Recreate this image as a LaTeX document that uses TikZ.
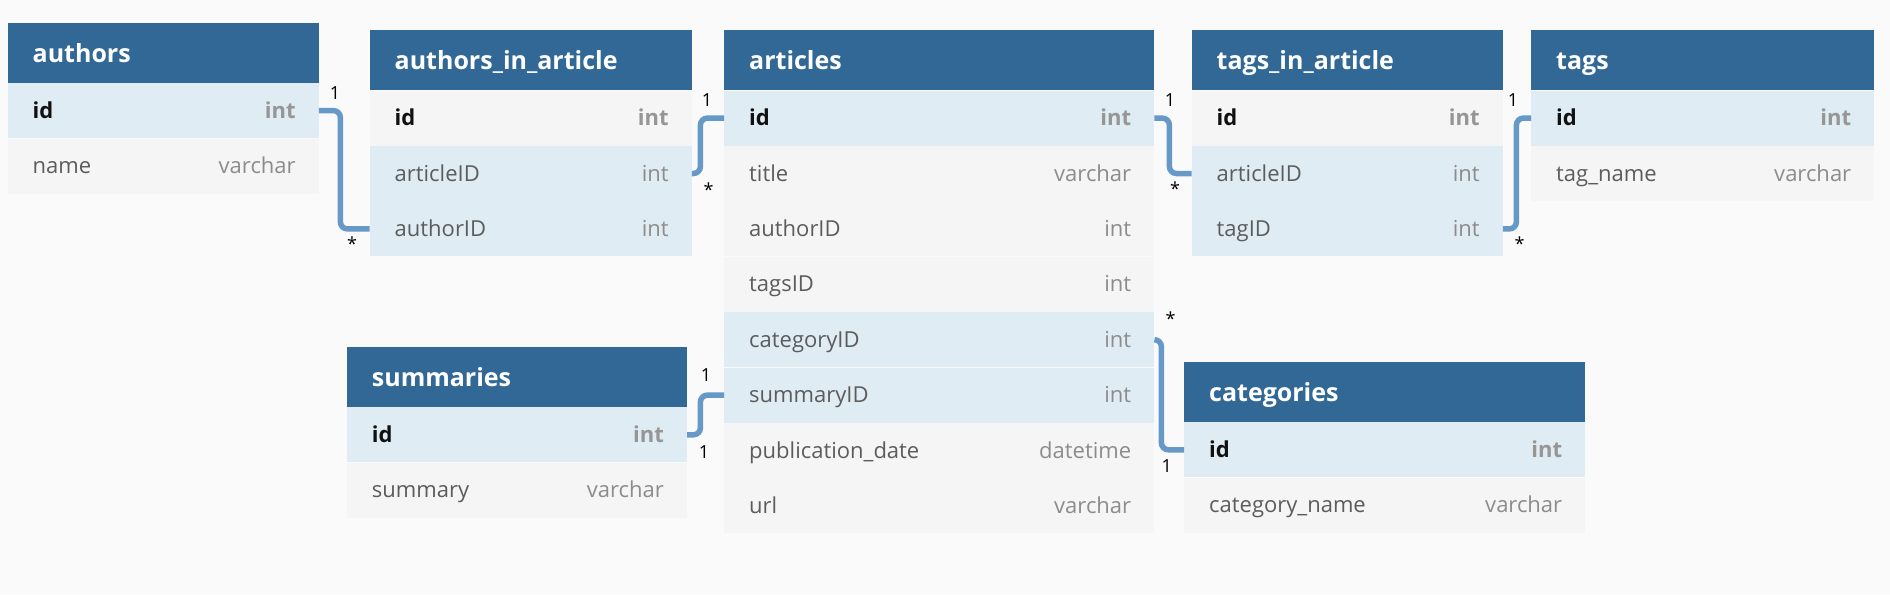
\documentclass[tikz,border=0pt]{standalone}
\usepackage{fontspec}
\setmainfont{Open Sans}
\definecolor{bgc}{RGB}{250,250,250}
\definecolor{hdrc}{RGB}{49,104,149}
\definecolor{rowb}{RGB}{223,236,244}
\definecolor{rowg}{RGB}{245,245,245}
\definecolor{connc}{RGB}{102,153,199}
\definecolor{namec}{RGB}{92,92,92}
\definecolor{typec}{RGB}{140,140,140}
\definecolor{keytc}{RGB}{150,150,150}
\definecolor{keync}{RGB}{17,17,17}
\newcommand{\dbhead}[5]{%
  \node[hdr, minimum width=#4] (#1) at (#2,#3) {};
  \node[hdrtext, anchor=base west] (#1-title) at ([xshift=25pt,yshift=-9.3pt]#1.west) {#5};}
\newcommand{\dbrow}[7]{%
  \node[#4, minimum width=#3] (#1) at (#2.south west) {};
  \node[#7name, anchor=base west] (#1-n) at ([xshift=25pt,yshift=-7.5pt]#1.west) {#5};
  \node[#7type, anchor=base east] (#1-t) at ([xshift=-23pt,yshift=-7.5pt]#1.east) {#6};}
\begin{document}
\begin{tikzpicture}[x=1pt,y=-1pt,
  hdr/.style={fill=hdrc, inner sep=0pt, minimum height=60pt, anchor=north west},
  hdrtext/.style={inner sep=0pt, text=white, font=\fontsize{25pt}{30pt}\selectfont\bfseries},
  rowblue/.style={fill=rowb, inner sep=0pt, minimum height=55pt, anchor=north west},
  rowgrey/.style={fill=rowg, inner sep=0pt, minimum height=55pt, anchor=north west},
  keyname/.style={inner sep=0pt, text=keync, font=\fontsize{22pt}{26pt}\selectfont\bfseries},
  keytype/.style={inner sep=0pt, text=keytc, font=\fontsize{22pt}{26pt}\selectfont\bfseries},
  fldname/.style={inner sep=0pt, text=namec, font=\fontsize{22pt}{26pt}\selectfont},
  fldtype/.style={inner sep=0pt, text=typec, font=\fontsize{22pt}{26pt}\selectfont},
  conn/.style={draw=connc, line width=5.5pt, rounded corners=7pt},
  card/.style={inner sep=0pt, anchor=base, text=black, font=\fontsize{18pt}{22pt}\selectfont}]
\fill[bgc] (0,0) rectangle (1890,595);
\useasboundingbox (0,0) rectangle (1890,595);

% authors
\dbhead{authors}{7.5}{22.5}{311pt}{authors}
\dbrow{authors-id}{authors}{311pt}{rowblue}{id}{int}{key}
\dbrow{authors-name}{authors-id}{311pt}{rowgrey}{name}{varchar}{fld}

% authors_in_article
\dbhead{aia}{369.5}{30}{322pt}{authors\_in\_article}
\dbrow{aia-id}{aia}{322pt}{rowgrey}{id}{int}{key}
\dbrow{aia-articleID}{aia-id}{322pt}{rowblue}{articleID}{int}{fld}
\dbrow{aia-authorID}{aia-articleID}{322pt}{rowblue}{authorID}{int}{fld}

% articles
\dbhead{articles}{724}{30}{430pt}{articles}
\dbrow{art-id}{articles}{430pt}{rowblue}{id}{int}{key}
\dbrow{art-title}{art-id}{430pt}{rowgrey}{title}{varchar}{fld}
\dbrow{art-authorID}{art-title}{430pt}{rowgrey}{authorID}{int}{fld}
\dbrow{art-tagsID}{art-authorID}{430pt}{rowgrey}{tagsID}{int}{fld}
\dbrow{art-categoryID}{art-tagsID}{430pt}{rowblue}{categoryID}{int}{fld}
\dbrow{art-summaryID}{art-categoryID}{430pt}{rowblue}{summaryID}{int}{fld}
\dbrow{art-pubdate}{art-summaryID}{430pt}{rowgrey}{publication\_date}{datetime}{fld}
\dbrow{art-url}{art-pubdate}{430pt}{rowgrey}{url}{varchar}{fld}

% tags_in_article
\dbhead{tia}{1191.5}{30}{311pt}{tags\_in\_article}
\dbrow{tia-id}{tia}{311pt}{rowgrey}{id}{int}{key}
\dbrow{tia-articleID}{tia-id}{311pt}{rowblue}{articleID}{int}{fld}
\dbrow{tia-tagID}{tia-articleID}{311pt}{rowblue}{tagID}{int}{fld}

% tags
\dbhead{tags}{1531}{30}{343pt}{tags}
\dbrow{tags-id}{tags}{343pt}{rowblue}{id}{int}{key}
\dbrow{tags-name}{tags-id}{343pt}{rowgrey}{tag\_name}{varchar}{fld}

% summaries
\dbhead{sum}{346.7}{346.7}{340pt}{summaries}
\dbrow{sum-id}{sum}{340pt}{rowblue}{id}{int}{key}
\dbrow{sum-summary}{sum-id}{340pt}{rowgrey}{summary}{varchar}{fld}

% categories
\dbhead{cat}{1184}{361.7}{401pt}{categories}
\dbrow{cat-id}{cat}{401pt}{rowblue}{id}{int}{key}
\dbrow{cat-name}{cat-id}{401pt}{rowgrey}{category\_name}{varchar}{fld}

% connectors
\draw[conn] (authors-id.east) -- ++(21.5pt,0) |- (aia-authorID.west);
\draw[conn] (aia-articleID.east) -- ++(8.5pt,0) |- (art-id.west);
\draw[conn] (art-id.east) -- ++(15pt,0) |- (tia-articleID.west);
\draw[conn] (tia-tagID.east) -- ++(13.5pt,0) |- (tags-id.west);
\draw[conn] (sum-id.east) -- ++(13.3pt,0) |- (art-summaryID.west);
\draw[conn] (art-categoryID.east) -- ++(7pt,0) |- (cat-id.west);

% cardinalities
\node[card] (c1a) at (335,99.5) {1};
\node[card] (c1b) at (352,250) {*};
\node[card] (c2a) at (707,106.5) {1};
\node[card] (c2b) at (708.5,196) {*};
\node[card] (c3a) at (1170,106.5) {1};
\node[card] (c3b) at (1175,195) {*};
\node[card] (c4a) at (1513,106.5) {1};
\node[card] (c4b) at (1519.5,250) {*};
\node[card] (c5a) at (706,381.5) {1};
\node[card] (c5b) at (704,458.5) {1};
\node[card] (c6a) at (1170.7,325) {*};
\node[card] (c6b) at (1166.7,472.5) {1};
\end{tikzpicture}
\end{document}
